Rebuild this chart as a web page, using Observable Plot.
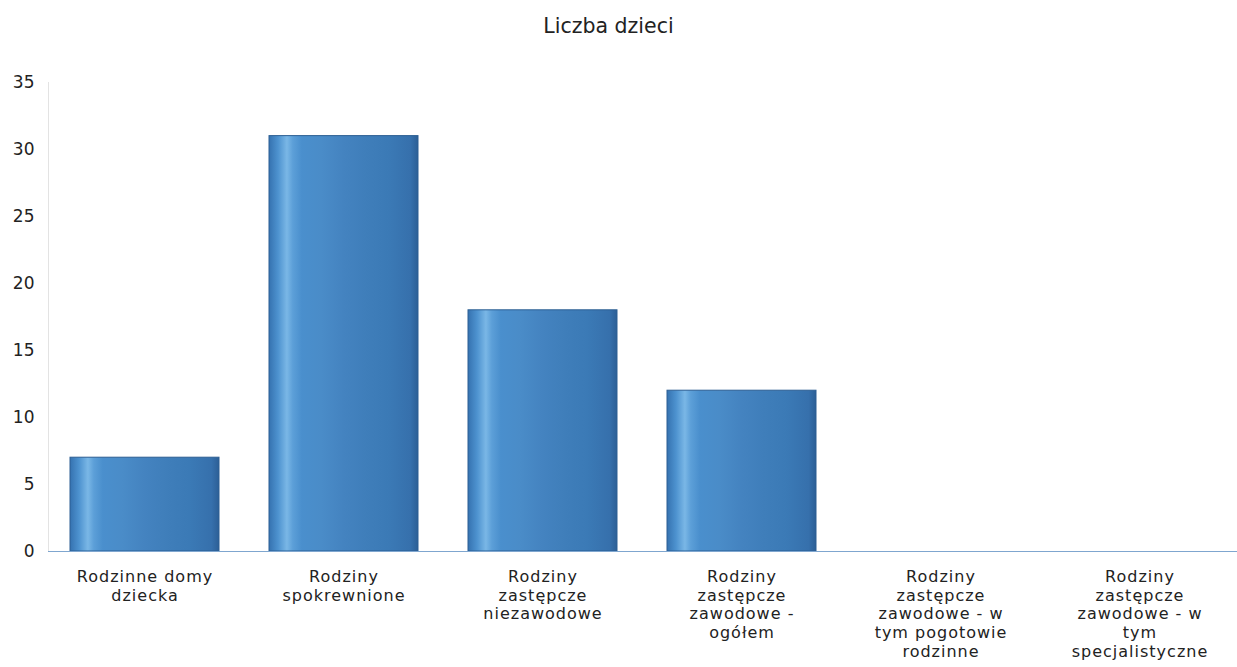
<!DOCTYPE html>
<html>
<head>
<meta charset="utf-8">
<script src="https://cdn.jsdelivr.net/npm/d3@7"></script>
<script src="https://cdn.jsdelivr.net/npm/@observablehq/plot@0.6"></script>
<style>
  html, body { margin: 0; padding: 0; background: #fff; }
  #title { height: 60px; padding-top: 14px; padding-right: 20px; text-align: center; font-family: "DejaVu Sans", Verdana, sans-serif; font-size: 20.5px; line-height: 24px; color: #222; box-sizing: border-box; }
  #chart svg { display: block; }
  #chart svg g[aria-label="x-axis tick label"] text { letter-spacing: 1px; }
</style>
</head>
<body>
<div id="title">Liczba dzieci</div>
<div id="chart"></div>
<script>
const categories = ["RDD", "SPOK", "NIEZAW", "ZAW", "POG", "SPEC"];
const values = [7, 31, 18, 12, 0, 0];
const tickLabels = [
  "Rodzinne domy\ndziecka",
  "Rodziny\nspokrewnione",
  "Rodziny\nzastępcze\nniezawodowe",
  "Rodziny\nzastępcze\nzawodowe -\nogółem",
  "Rodziny\nzastępcze\nzawodowe - w\ntym pogotowie\nrodzinne",
  "Rodziny\nzastępcze\nzawodowe - w\ntym\nspecjalistyczne"
];
const yTicks = [0, 5, 10, 15, 20, 25, 30, 35];

const data = categories.map((c, i) => ({cat: c, value: values[i]}));
const labelOf = new Map(categories.map((c, i) => [c, tickLabels[i]]));

const chart = Plot.plot({
  width: 1237,
  height: 607,
  marginTop: 22,
  marginBottom: 116,
  marginLeft: 48,
  marginRight: 0,
  style: {fontFamily: "DejaVu Sans, Verdana, sans-serif", fontSize: "17px", color: "#222", background: "#fff"},
  x: {domain: categories, paddingInner: 0.25, paddingOuter: 0.11, label: null},
  y: {domain: [0, 35], label: null},
  marks: [
    Plot.frame({anchor: "left", stroke: "#e3e3e3"}),
    Plot.axisY({ticks: yTicks, tickSize: 0, tickPadding: 14, label: null, fontSize: 17}),
    Plot.axisX({tickSize: 0, tickPadding: 17, tickFormat: d => labelOf.get(d), label: null, fontSize: 16, lineHeight: 1.17}),
    Plot.barY(data, {x: "cat", y: "value", fill: "url(#barGrad)", stroke: "#2d5f93", strokeWidth: 1}),
    Plot.ruleY([0], {stroke: "#7fa6cf", strokeWidth: 1.2})
  ]
});

const ns = "http://www.w3.org/2000/svg";
const defs = document.createElementNS(ns, "defs");
const grad = document.createElementNS(ns, "linearGradient");
grad.setAttribute("id", "barGrad");
grad.setAttribute("x1", "0"); grad.setAttribute("x2", "1");
grad.setAttribute("y1", "0"); grad.setAttribute("y2", "0");
[[0, "#3572b0"], [0.06, "#4d92cf"], [0.12, "#7ab7e6"], [0.16, "#5c9fd8"], [0.22, "#4a8fcd"],
 [0.35, "#4a8cc8"], [0.5, "#4483c0"], [0.65, "#3f7eba"], [0.8, "#3b7ab6"], [0.95, "#3670ac"], [1, "#2c5f96"]]
 .forEach(([o, c]) => {
  const s = document.createElementNS(ns, "stop");
  s.setAttribute("offset", o);
  s.setAttribute("stop-color", c);
  grad.appendChild(s);
});
defs.appendChild(grad);
chart.insertBefore(defs, chart.firstChild);
document.getElementById("chart").appendChild(chart);
</script>
</body>
</html>
